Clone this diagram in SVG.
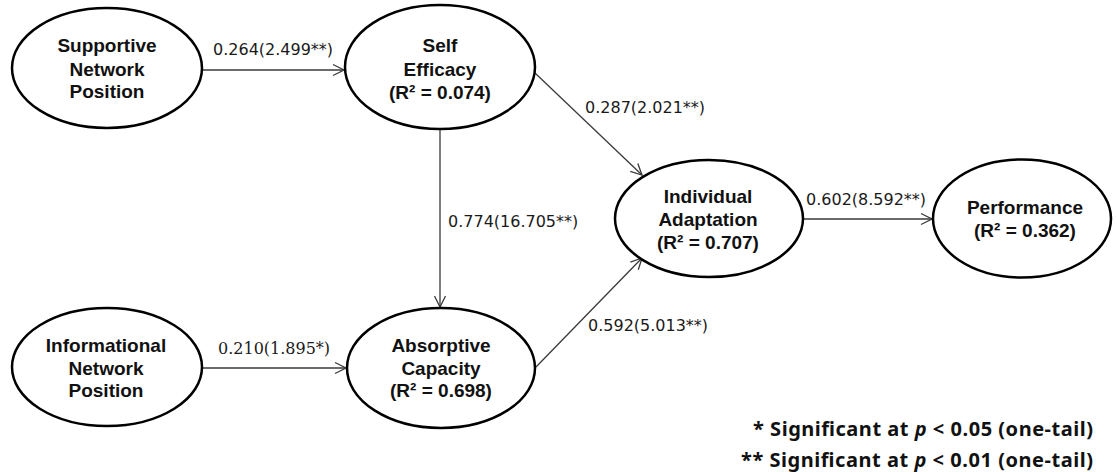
<svg xmlns="http://www.w3.org/2000/svg" width="1117" height="472" viewBox="0 0 1117 472">
<style>
.node ellipse{fill:#fff;stroke:#000;stroke-width:2.5}
.node text{font-family:"Liberation Sans",Arial,sans-serif;font-weight:bold;font-size:19px;fill:#111;text-anchor:middle}
.edge{stroke:#3a3a3a;stroke-width:1.3;fill:none;marker-end:url(#arr)}
.lbl{font-family:"DejaVu Sans",sans-serif;font-size:16px;fill:#1a1a1a}
.lbls{font-family:"DejaVu Serif",serif;font-size:16px;fill:#1a1a1a}
.note{font-family:"Noto Sans",sans-serif;font-weight:bold;font-size:20px;fill:#111;text-anchor:end}
</style>
<defs>
<marker id="arr" markerUnits="userSpaceOnUse" markerWidth="14" markerHeight="14" viewBox="-12 -7 14 14" refX="0" refY="0" orient="auto">
<path d="M-11,-5.5 L0,0 L-11,5.5" fill="none" stroke="#3a3a3a" stroke-width="1.3"/>
</marker>
</defs>
<rect width="1117" height="472" fill="#fff"/>
<g id="connectors">
<line class="edge" x1="202" y1="70" x2="344" y2="70"/>
<line class="edge" x1="202" y1="368" x2="346" y2="368"/>
<line class="edge" x1="440" y1="129" x2="440" y2="307"/>
<line class="edge" x1="535" y1="73" x2="642" y2="175"/>
<line class="edge" x1="536" y1="367" x2="642" y2="258"/>
<line class="edge" x1="803" y1="219" x2="932" y2="219"/>
<text class="lbl" x="213" y="55">0.264(2.499**)</text>
<text class="lbl" x="585" y="113">0.287(2.021**)</text>
<text class="lbl" x="448" y="227">0.774(16.705**)</text>
<text class="lbl" x="806" y="205">0.602(8.592**)</text>
<text class="lbl" x="588" y="331">0.592(5.013**)</text>
<text class="lbls" x="218" y="354">0.210(1.895*)</text>
</g>
<g id="supportive" class="node">
<ellipse cx="107" cy="68" rx="95" ry="60"/>
<text x="107" y="52">Supportive</text>
<text x="107" y="76">Network</text>
<text x="107" y="98">Position</text>
</g>
<g id="self-efficacy" class="node">
<ellipse cx="440" cy="67" rx="95" ry="62"/>
<text x="440" y="52">Self</text>
<text x="440" y="76">Efficacy</text>
<text x="440" y="99">(R² = 0.074)</text>
</g>
<g id="informational" class="node">
<ellipse cx="107" cy="367" rx="95" ry="59"/>
<text x="106" y="352">Informational</text>
<text x="106" y="375">Network</text>
<text x="106" y="397">Position</text>
</g>
<g id="absorptive" class="node">
<ellipse cx="441" cy="368" rx="94" ry="60"/>
<text x="441" y="352">Absorptive</text>
<text x="441" y="375">Capacity</text>
<text x="441" y="397">(R² = 0.698)</text>
</g>
<g id="individual-adaptation" class="node">
<ellipse cx="709" cy="218.5" rx="94" ry="58.5"/>
<text x="708" y="203">Individual</text>
<text x="708" y="226">Adaptation</text>
<text x="708" y="249">(R² = 0.707)</text>
</g>
<g id="performance" class="node">
<ellipse cx="1022" cy="218.5" rx="89" ry="59"/>
<text x="1025" y="214">Performance</text>
<text x="1025" y="237">(R² = 0.362)</text>
</g>
<g id="notes">
<text class="note" x="1093" y="436" textLength="340" lengthAdjust="spacing">* Significant at <tspan font-style="italic">p</tspan> &lt; 0.05 (one-tail)</text>
<text class="note" x="1093" y="467" textLength="352" lengthAdjust="spacing">** Significant at <tspan font-style="italic">p</tspan> &lt; 0.01 (one-tail)</text>
</g>
</svg>
